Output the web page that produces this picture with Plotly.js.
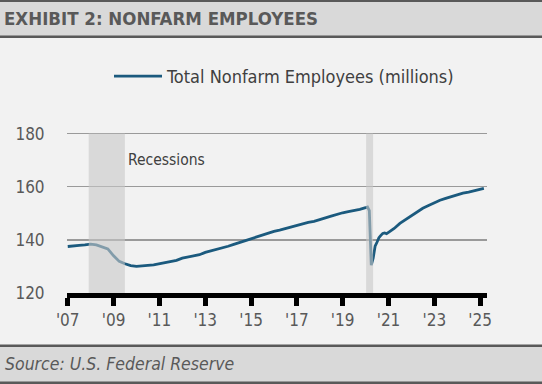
<!DOCTYPE html>
<html>
<head>
<meta charset="utf-8">
<script src="https://cdn.plot.ly/plotly-3.0.1.min.js"></script>
<style>html,body{margin:0;padding:0;background:#f2f2f2;}#chart{width:542px;height:384px;}</style>
</head>
<body>
<div id="chart"></div>
<script>
const dates = [
  "2007-01","2007-04","2007-07","2007-10",
  "2008-01","2008-04","2008-07","2008-10",
  "2009-01","2009-04","2009-07","2009-10",
  "2010-01","2010-04","2010-07","2010-10",
  "2011-01","2011-04","2011-07","2011-10",
  "2012-01","2012-04","2012-07","2012-10",
  "2013-01","2013-04","2013-07","2013-10",
  "2014-01","2014-04","2014-07","2014-10",
  "2015-01","2015-04","2015-07","2015-10",
  "2016-01","2016-04","2016-07","2016-10",
  "2017-01","2017-04","2017-07","2017-10",
  "2018-01","2018-04","2018-07","2018-10",
  "2019-01","2019-04","2019-07","2019-10",
  "2020-01","2020-02","2020-03","2020-04","2020-05","2020-06","2020-07","2020-08","2020-09","2020-10","2020-11","2020-12",
  "2021-01","2021-04","2021-07","2021-10",
  "2022-01","2022-04","2022-07","2022-10",
  "2023-01","2023-04","2023-07","2023-10",
  "2024-01","2024-04","2024-07","2024-10",
  "2025-01","2025-03"
];
const employees = [
  137.5,137.8,137.9,138.1,
  138.4,138.1,137.5,136.6,
  134.0,131.9,131.0,130.3,
  130.0,130.3,130.4,130.6,
  131.0,131.6,131.9,132.3,
  133.1,133.5,133.9,134.4,
  135.3,135.8,136.4,137.0,
  137.6,138.3,139.0,139.8,
  140.6,141.2,141.9,142.5,
  143.2,143.7,144.3,144.8,
  145.6,146.0,146.6,147.0,
  147.8,148.3,148.9,149.6,
  150.2,150.6,151.0,151.5,
  152.1,152.4,151.0,130.5,133.1,137.6,139.1,140.8,141.7,142.4,142.6,142.3,
  142.8,144.3,146.2,147.7,
  149.2,150.7,151.9,152.9,
  154.0,154.9,155.6,156.3,
  156.9,157.6,158.0,158.6,
  159.0,159.4
];
const recessionStarts = ["2007-12-01","2020-01-10"];
const recessionEnds = ["2009-06-30","2020-04-30"];
const tickDates = ["2007-01-01","2009-01-01","2011-01-01","2013-01-01","2015-01-01","2017-01-01","2019-01-01","2021-01-01","2023-01-01","2025-01-01"];
const tickLabels = ["'07","'09","'11","'13","'15","'17","'19","'21","'23","'25"];
const yTicks = [120,140,160,180];

const FONT = "'Liberation Sans Narrow', 'DejaVu Sans Condensed', 'Arial Narrow', sans-serif";
const YMIN = 120, YMAX = 180.6;
const L = 67, W = 420, B = 293;
const H = 159 * (YMAX - YMIN) / 60;
const T = B - H;
const px = v => (v - L) / W;
const py = v => (B - v) / H;

const shapes = [];
for (let i = 0; i < recessionStarts.length; i++) {
  shapes.push({type:"rect", xref:"x", yref:"y", x0:recessionStarts[i], x1:recessionEnds[i], y0:120, y1:180,
    fillcolor:"rgba(200,200,200,0.6)", line:{width:0}, layer:"above"});
}
// header band
shapes.push({type:"rect", xref:"paper", yref:"paper", x0:px(0), x1:px(542), y0:py(2), y1:py(37), fillcolor:"#d9d9d9", line:{width:0}, layer:"below"});
shapes.push({type:"line", xref:"paper", yref:"paper", x0:px(0), x1:px(542), y0:py(1.5), y1:py(1.5), line:{color:"#595959", width:2.5}});
shapes.push({type:"line", xref:"paper", yref:"paper", x0:px(0), x1:px(542), y0:py(37.5), y1:py(37.5), line:{color:"#595959", width:2.5}});
// footer band
shapes.push({type:"rect", xref:"paper", yref:"paper", x0:px(0), x1:px(542), y0:py(346), y1:py(382), fillcolor:"#d9d9d9", line:{width:0}, layer:"below"});
shapes.push({type:"line", xref:"paper", yref:"paper", x0:px(0), x1:px(542), y0:py(345.5), y1:py(345.5), line:{color:"#595959", width:2.5}});
shapes.push({type:"line", xref:"paper", yref:"paper", x0:px(0), x1:px(542), y0:py(382.5), y1:py(382.5), line:{color:"#595959", width:2.5}});

const data = [{
  type:"scatter", mode:"lines", x:dates, y:employees,
  name:"Total Nonfarm Employees (millions)",
  line:{color:"#1b5a7e", width:2.8}
}];

const layout = {
  width:542, height:384,
  margin:{l:L, r:542-L-W, t:T, b:384-B},
  paper_bgcolor:"#f2f2f2", plot_bgcolor:"#f2f2f2",
  font:{family:FONT, color:"#595959"},
  showlegend:true,
  legend:{orientation:"h", x:px(109), xanchor:"left", y:py(77), yanchor:"middle", itemwidth:48,
    bgcolor:"rgba(0,0,0,0)", font:{size:18, color:"#404040", family:FONT}},
  xaxis:{type:"date", range:["2006-12-20","2025-04-20"], tickmode:"array", tickvals:tickDates, ticktext:tickLabels,
    showgrid:false, zeroline:false, showline:true, linecolor:"#000", linewidth:5,
    ticks:"outside", ticklen:8, tickwidth:5, tickcolor:"#000",
    tickfont:{size:17, color:"#595959", family:FONT}},
  yaxis:{range:[YMIN, YMAX], tickmode:"array", tickvals:yTicks, showgrid:true, gridcolor:"#9a9a9a", gridwidth:1.5,
    zeroline:false, showline:false, ticks:"outside", ticklen:18, tickcolor:"rgba(0,0,0,0)",
    tickfont:{size:17, color:"#595959", family:FONT}},
  shapes:shapes,
  annotations:[
    {text:"<b>EXHIBIT 2: NONFARM EMPLOYEES</b>", xref:"paper", yref:"paper", x:px(2), y:py(19.5), xanchor:"left", yanchor:"middle",
      showarrow:false, font:{size:18.5, color:"#595959", family:FONT}},
    {text:"<i>Source: U.S. Federal Reserve</i>", xref:"paper", yref:"paper", x:px(3), y:py(364), xanchor:"left", yanchor:"middle",
      showarrow:false, font:{size:17.5, color:"#595959", family:FONT}},
    {text:"Recessions", xref:"paper", yref:"paper", x:px(126), y:py(160), xanchor:"left", yanchor:"middle",
      showarrow:false, font:{size:15.5, color:"#404040", family:FONT}}
  ]
};
Plotly.newPlot("chart", data, layout, {displayModeBar:false, staticPlot:true});
</script>
</body>
</html>
